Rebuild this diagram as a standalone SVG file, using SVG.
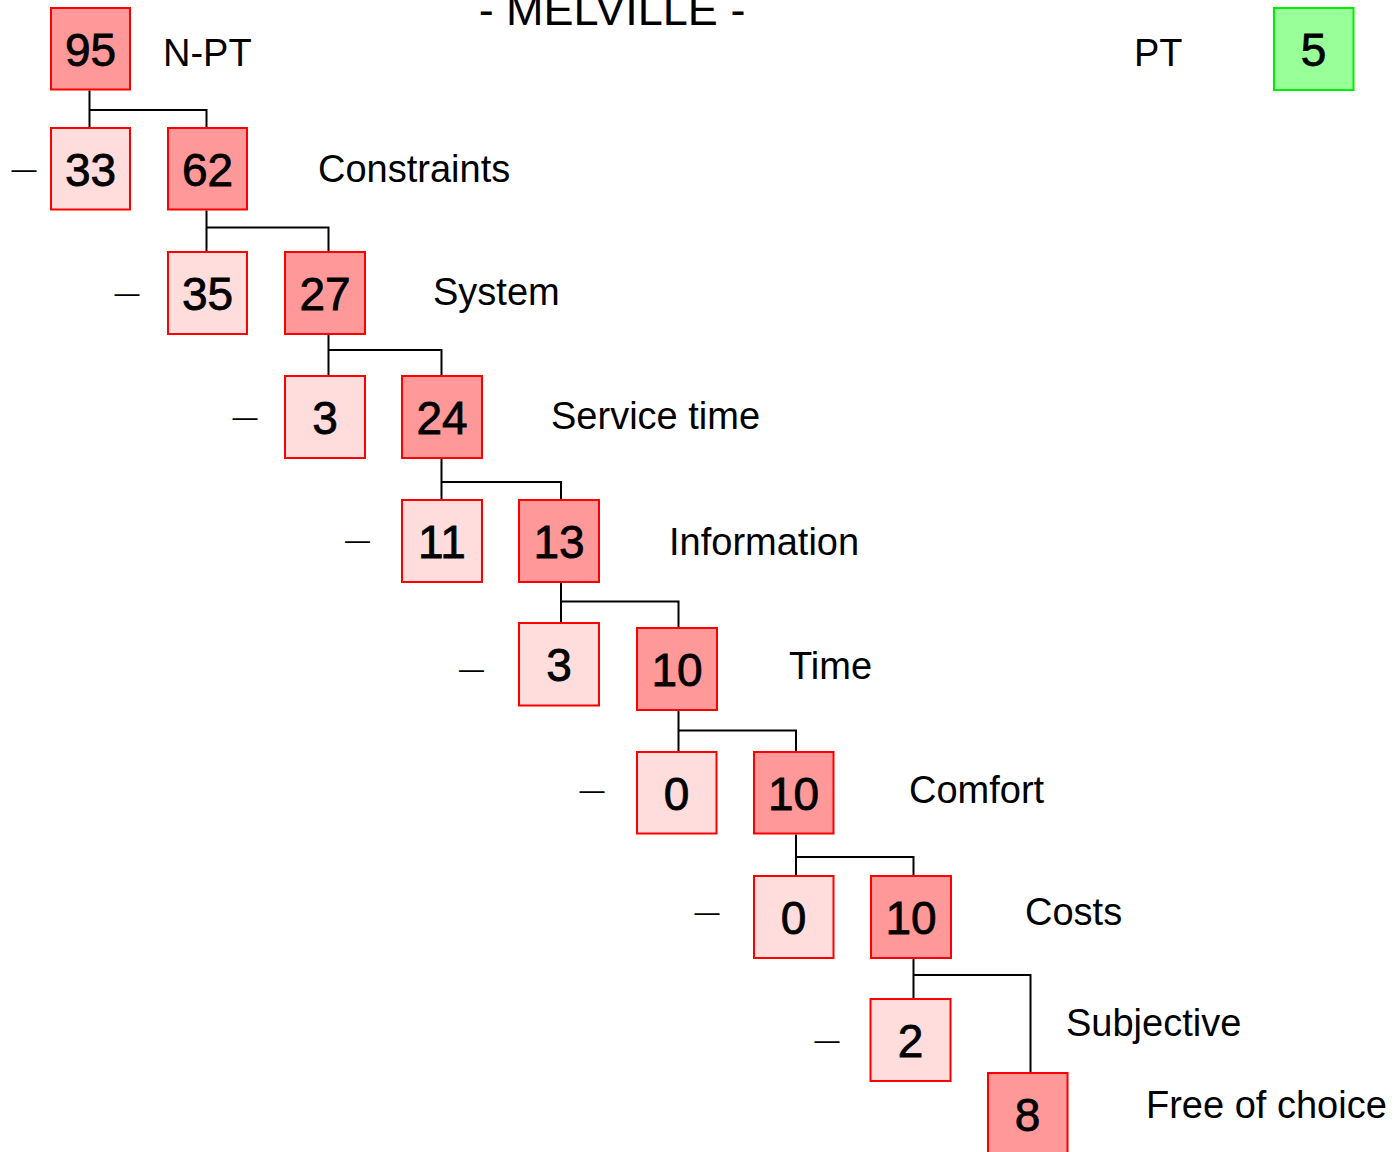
<svg xmlns="http://www.w3.org/2000/svg" width="1396" height="1152" viewBox="0 0 1396 1152">
<style>
  .box rect { stroke: #ff0000; stroke-width: 2; }
  .dark rect { fill: #ff9999; }
  .light rect { fill: #ffdddd; }
  .green rect { fill: #99ff99; stroke: #00ee00; stroke-width: 2; }
  .num { font-family: "Liberation Sans", Arial, sans-serif; font-size: 46px; text-anchor: middle; fill: #000; stroke: #000; stroke-width: 0.8; }
  .lbl { font-family: "Liberation Sans", Arial, sans-serif; font-size: 38px; fill: #000; }
  .dash { font-family: "Liberation Sans", Arial, sans-serif; font-size: 25px; fill: #000; }
  .conn path { fill: none; stroke: #000; stroke-width: 2; }
</style>
<rect width="1396" height="1152" fill="#ffffff"/>
<text class="lbl" x="612" y="25" text-anchor="middle" style="font-size:45px">- MELVILLE -</text>

<g id="connectors" class="conn">
  <path d="M89.5 90.5 V127 M89.5 110 H206.5 V127"/>
  <path d="M206.5 210.5 V251 M206.5 227.5 H328.5 V251"/>
  <path d="M328.5 334.5 V375 M328.5 350 H441.5 V375"/>
  <path d="M441.5 458.5 V499 M441.5 482 H561 V499"/>
  <path d="M561 582.5 V622 M561 601.5 H678.5 V627"/>
  <path d="M678.5 710.5 V751 M678.5 730.5 H796 V751"/>
  <path d="M796 834.5 V875 M796 857 H913.5 V875"/>
  <path d="M913.5 958.5 V998 M913.5 975 H1030.5 V1072"/>
</g>

<g id="n95" class="box dark"><rect x="51" y="8" width="79" height="81.5"/><text class="num" x="90.5" y="66">95</text></g>
<text class="lbl" x="163" y="66">N-PT</text>
<text class="lbl" x="1134" y="66">PT</text>
<g id="n5" class="green"><rect x="1274" y="8" width="79.5" height="82"/><text class="num" x="1313.5" y="66">5</text></g>

<g id="n33" class="box light"><rect x="51" y="128" width="79" height="81.5"/><text class="num" x="90.5" y="186">33</text></g>
<g id="n62" class="box dark"><rect x="168" y="128" width="79" height="81.5"/><text class="num" x="207.5" y="186">62</text></g>
<text class="dash" x="11.5" y="177.7">—</text>
<text class="lbl" x="318" y="182">Constraints</text>

<g id="n35" class="box light"><rect x="168" y="252" width="79" height="82"/><text class="num" x="207.5" y="310">35</text></g>
<g id="n27" class="box dark"><rect x="285" y="252" width="80" height="82"/><text class="num" x="325" y="310">27</text></g>
<text class="dash" x="114.5" y="301.7">—</text>
<text class="lbl" x="433" y="305">System</text>

<g id="n3a" class="box light"><rect x="285" y="376" width="80" height="82"/><text class="num" x="325" y="434">3</text></g>
<g id="n24" class="box dark"><rect x="402" y="376" width="80" height="82"/><text class="num" x="442" y="434">24</text></g>
<text class="dash" x="232.5" y="425.9">—</text>
<text class="lbl" x="551" y="429">Service time</text>

<g id="n11" class="box light"><rect x="402" y="500" width="80" height="82"/><text class="num" x="442" y="558">11</text></g>
<g id="n13" class="box dark"><rect x="519" y="500" width="80" height="82"/><text class="num" x="559" y="558">13</text></g>
<text class="dash" x="345" y="548.7">—</text>
<text class="lbl" x="669" y="555">Information</text>

<g id="n3b" class="box light"><rect x="519" y="623" width="80" height="82.5"/><text class="num" x="559" y="681">3</text></g>
<g id="n10a" class="box dark"><rect x="637" y="628" width="80" height="82"/><text class="num" x="677" y="686">10</text></g>
<text class="dash" x="459" y="677.7">—</text>
<text class="lbl" x="789" y="679">Time</text>

<g id="n0a" class="box light"><rect x="637" y="752" width="79.5" height="81.5"/><text class="num" x="676.5" y="810">0</text></g>
<g id="n10b" class="box dark"><rect x="754" y="752" width="79.5" height="81.5"/><text class="num" x="793.5" y="810">10</text></g>
<text class="dash" x="579.5" y="798.7">—</text>
<text class="lbl" x="909" y="803">Comfort</text>

<g id="n0b" class="box light"><rect x="754" y="876" width="79.5" height="82"/><text class="num" x="793.5" y="934">0</text></g>
<g id="n10c" class="box dark"><rect x="871" y="876" width="80" height="82"/><text class="num" x="911" y="934">10</text></g>
<text class="dash" x="694.5" y="921">—</text>
<text class="lbl" x="1025" y="925">Costs</text>

<g id="n2" class="box light"><rect x="870.5" y="999" width="80" height="82"/><text class="num" x="910.5" y="1057">2</text></g>
<text class="dash" x="814.5" y="1049">—</text>
<text class="lbl" x="1066" y="1036">Subjective</text>

<g id="n8" class="box dark"><rect x="988" y="1073" width="79.5" height="82"/><text class="num" x="1027.5" y="1131">8</text></g>
<text class="lbl" x="1146" y="1118">Free of choice</text>
</svg>
